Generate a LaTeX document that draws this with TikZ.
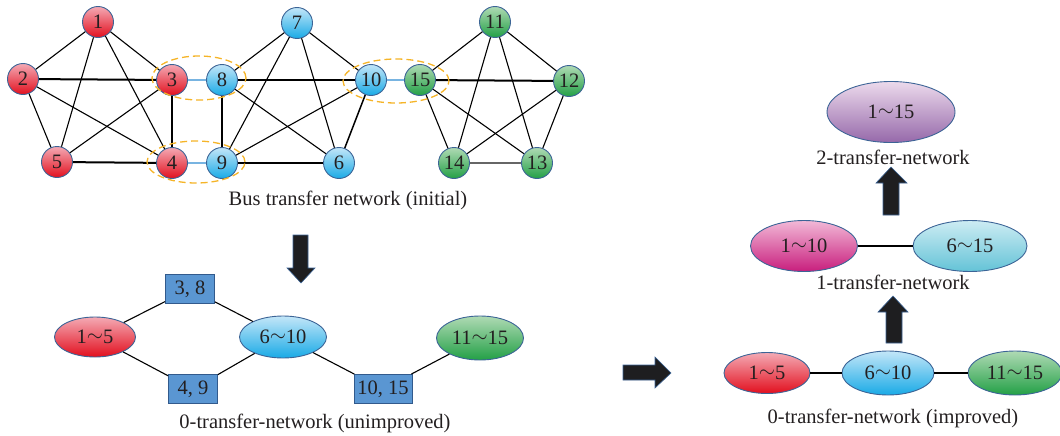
\documentclass[tikz,border=0pt]{standalone}
\usepackage{fontspec}
\setmainfont{Liberation Serif}
\usetikzlibrary{shapes.geometric}
\definecolor{redtop}{RGB}{244,170,180}
\definecolor{redbot}{RGB}{226,15,30}
\definecolor{bluetop}{RGB}{195,230,248}
\definecolor{bluebot}{RGB}{25,170,230}
\definecolor{greentop}{RGB}{175,218,180}
\definecolor{greenbot}{RGB}{35,160,70}
\definecolor{purptop}{RGB}{236,218,236}
\definecolor{purpbot}{RGB}{150,105,170}
\definecolor{magtop}{RGB}{242,185,215}
\definecolor{magbot}{RGB}{200,30,125}
\definecolor{tealtop}{RGB}{205,236,243}
\definecolor{tealbot}{RGB}{100,195,215}
\definecolor{bord}{RGB}{60,100,150}
\definecolor{orng}{RGB}{245,180,40}
\definecolor{lblue}{RGB}{120,180,225}
\definecolor{boxfill}{RGB}{90,150,210}
\definecolor{boxbord}{RGB}{50,90,140}
\definecolor{txt}{RGB}{35,31,32}
\definecolor{arrfill}{RGB}{30,30,32}
\newcommand{\tld}{\raisebox{0.1em}{$\sim$}}
\tikzset{
  every node/.style={text=txt, font=\fontsize{20.5}{22}\selectfont},
  stn/.style={circle, draw=bord, line width=0.9pt, minimum size=31pt, inner sep=0pt},
  rn/.style={stn, top color=redtop, bottom color=redbot},
  bn/.style={stn, top color=bluetop, bottom color=bluebot},
  gn/.style={stn, top color=greentop, bottom color=greenbot},
  ell/.style={ellipse, draw=bord, line width=0.9pt, inner sep=0pt},
  boxn/.style={rectangle, draw=boxbord, line width=0.8pt, fill=boxfill, minimum height=29pt, inner sep=0pt},
  thin edge/.style={draw=black, line width=1.1pt},
  thick edge/.style={draw=black, line width=2pt},
  lb edge/.style={draw=lblue, line width=1.6pt},
  grp/.style={ellipse, draw=orng, dash pattern=on 7pt off 4pt, line width=1.3pt, inner sep=0pt},
  blockarrow/.style={fill=arrfill, draw=bord, line width=0.6pt},
  captext/.style={font=\fontsize{20.5}{22}\selectfont}
}
\begin{document}
\begin{tikzpicture}[x=1pt, y=-1pt]
\useasboundingbox (0,0) rectangle (1060,436);
\clip (0,0) rectangle (1060,436);
% ---- initial network nodes
\node[rn] (n1) at (98,22) {1};
\node[rn] (n2) at (23,79) {2};
\node[rn] (n3) at (172,80) {3};
\node[rn] (n4) at (172,163) {4};
\node[rn] (n5) at (57,162) {5};
\node[bn] (n8) at (222,80) {8};
\node[bn] (n9) at (222,163) {9};
\node[bn] (n7) at (297,23) {7};
\node[bn] (n10) at (371,80) {10};
\node[bn] (n6) at (339,163) {6};
\node[gn] (n15) at (420,80) {15};
\node[gn] (n11) at (495,22) {11};
\node[gn] (n12) at (569,81) {12};
\node[gn] (n13) at (537,163) {13};
\node[gn] (n14) at (454,163) {14};
% edges
\draw[thin edge] (n1) -- (n2);
\draw[thin edge] (n1) -- (n5);
\draw[thin edge] (n1) -- (n4);
\draw[thin edge] (n1) -- (n3);
\draw[thick edge] (n2) -- (n3);
\draw[thin edge] (n2) -- (n5);
\draw[thin edge] (n2) -- (n4);
\draw[thin edge] (n3) -- (n5);
\draw[thick edge] (n3) -- (n4);
\draw[thick edge] (n5) -- (n4);
\draw[lb edge] (n3) -- (n8);
\draw[lb edge] (n4) -- (n9);
\draw[thin edge] (n8) -- (n7);
\draw[thick edge] (n8) -- (n9);
\draw[thick edge] (n8) -- (n10);
\draw[thin edge] (n8) -- (n6);
\draw[thin edge] (n9) -- (n7);
\draw[thin edge] (n9) -- (n10);
\draw[thick edge] (n9) -- (n6);
\draw[thin edge] (n7) -- (n10);
\draw[thin edge] (n7) -- (n6);
\draw[thin edge, line width=1.5pt] (n10) -- (n6);
\draw[lb edge] (n10) -- (n15);
\draw[thin edge] (n15) -- (n11);
\draw[thick edge] (n15) -- (n12);
\draw[thin edge] (n15) -- (n14);
\draw[thin edge] (n15) -- (n13);
\draw[thin edge] (n11) -- (n14);
\draw[thin edge] (n11) -- (n13);
\draw[thin edge] (n11) -- (n12);
\draw[thin edge] (n12) -- (n14);
\draw[thin edge] (n12) -- (n13);
\draw[draw=gray!80!black, line width=1.3pt] (n14) -- (n13);
% group ellipses
\node[grp, minimum width=94pt, minimum height=44pt] (g38) at (199,78) {};
\node[grp, minimum width=98pt, minimum height=42pt] (g49) at (196,162) {};
\node[grp, minimum width=106pt, minimum height=44pt] (g1015) at (396,81) {};
\node[captext] (capA) at (348,200) {Bus transfer network (initial)};
% down arrow
\draw[blockarrow] (293,235) -- (308,235) -- (308,268) -- (315,268) -- (301,283) -- (287,268) -- (293,268) -- cycle;
% ---- unimproved 0-transfer network
\node[ell, minimum width=81pt, minimum height=40pt, top color=redtop, bottom color=redbot] (u15) at (95,337) {1\tld5};
\node[ell, minimum width=87pt, minimum height=42pt, top color=bluetop, bottom color=bluebot] (u610) at (283,337) {6\tld10};
\node[ell, minimum width=87pt, minimum height=44pt, top color=greentop, bottom color=greenbot] (u1115) at (480,338) {11\tld15};
\node[boxn, minimum width=49pt] (b38) at (190,289) {3, 8};
\node[boxn, minimum width=49pt] (b49) at (193,389) {4, 9};
\node[boxn, minimum width=58pt] (b1015) at (383,389) {10, 15};
\draw[thin edge] (u15) -- (b38);
\draw[thin edge] (b38) -- (u610);
\draw[thin edge] (u15) -- (b49);
\draw[thin edge] (b49) -- (u610);
\draw[thin edge] (u610) -- (b1015);
\draw[thin edge] (b1015) -- (u1115);
\node[captext] (capB) at (315,423) {0-transfer-network (unimproved)};
% right arrow
\draw[blockarrow] (623,365) -- (655,365) -- (655,357) -- (671,373) -- (655,388) -- (655,380) -- (623,380) -- cycle;
% ---- improved hierarchy
\node[ell, minimum width=86pt, minimum height=41pt, top color=redtop, bottom color=redbot] (i15) at (767,373) {1\tld5};
\node[ell, minimum width=92pt, minimum height=44pt, top color=bluetop, bottom color=bluebot] (i610) at (888,373) {6\tld10};
\node[ell, minimum width=94pt, minimum height=44pt, top color=greentop, bottom color=greenbot] (i1115) at (1015,373) {11\tld15};
\draw[thin edge] (i15) -- (i610);
\draw[thin edge] (i610) -- (i1115);
\node[captext] (capC) at (893,418) {0-transfer-network (improved)};
\draw[blockarrow] (886,343) -- (886,312) -- (878,312) -- (893,296) -- (908,312) -- (902,312) -- (902,343) -- cycle;
\node[ell, minimum width=107pt, minimum height=51pt, top color=magtop, bottom color=magbot] (h110) at (804,246) {1\tld10};
\node[ell, minimum width=114pt, minimum height=51pt, top color=tealtop, bottom color=tealbot] (h615) at (970,246) {6\tld15};
\draw[thin edge] (h110) -- (h615);
\node[captext] (capD) at (893,282) {1-transfer-network};
\draw[blockarrow] (883,215) -- (883,183) -- (876,183) -- (891,167) -- (907,183) -- (899,183) -- (899,215) -- cycle;
\node[ell, minimum width=128pt, minimum height=61pt, top color=purptop, bottom color=purpbot] (top115) at (891,112) {1\tld15};
\node[captext] (capE) at (893,157) {2-transfer-network};
\end{tikzpicture}
\end{document}
